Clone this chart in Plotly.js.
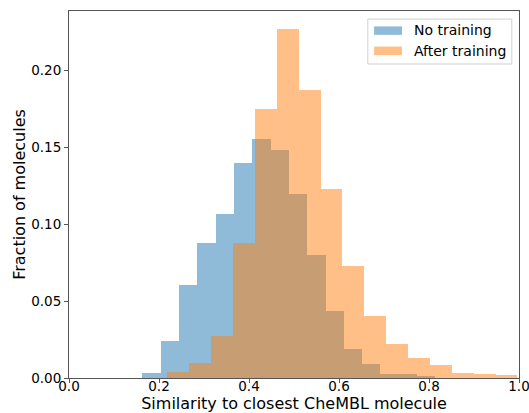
<!DOCTYPE html>
<html>
<head>
<meta charset="utf-8">
<script src="https://cdn.plot.ly/plotly-3.0.1.min.js"></script>
<style>html,body{margin:0;padding:0;background:#fff;}#chart{width:529px;height:413px;}</style>
</head>
<body>
<div id="chart"></div>
<script>
// Bin edges (n+1 values) and fractions
const noTrainingEdges = [0.163, 0.204, 0.244, 0.285, 0.326, 0.366, 0.407, 0.448, 0.489, 0.529, 0.570, 0.611, 0.651, 0.692, 0.733, 0.774, 0.814];
const noTrainingFrac  = [0.003, 0.0238, 0.0603, 0.0878, 0.1066, 0.1396, 0.1554, 0.148, 0.1196, 0.0798, 0.0436, 0.0186, 0.0093, 0.0028, 0.0025, 0.0015];

const afterTrainingEdges = [0.2185, 0.267, 0.3157, 0.3643, 0.413, 0.4616, 0.510, 0.559, 0.6075, 0.656, 0.705, 0.753, 0.802, 0.851, 0.899, 0.948, 0.996];
const afterTrainingFrac  = [0.0037, 0.0095, 0.0275, 0.0876, 0.1747, 0.2265, 0.1868, 0.1227, 0.0726, 0.0401, 0.0219, 0.0128, 0.0082, 0.003, 0.0026, 0.0022];

const seriesNames = ["No training", "After training"];
const seriesColors = ["rgba(31,119,180,0.5)", "rgba(255,127,14,0.5)"];

const xTicks = [0.0, 0.2, 0.4, 0.6, 0.8, 1.0];
const yTicks = [0.00, 0.05, 0.10, 0.15, 0.20];

const font = "DejaVu Sans, sans-serif";

function histTrace(edges, frac, name, color) {
  const left = edges.slice(0, -1);
  return {
    type: "bar", x: left, y: frac, offset: 0,
    width: left.map((e, i) => edges[i + 1] - e),
    marker: {color: color, line: {width: 0}}, name: name, showlegend: false
  };
}

const traces = [
  histTrace(noTrainingEdges, noTrainingFrac, seriesNames[0], seriesColors[0]),
  histTrace(afterTrainingEdges, afterTrainingFrac, seriesNames[1], seriesColors[1])
];

const axisCommon = {
  showline: true, mirror: true, linecolor: "#555", linewidth: 1,
  ticks: "outside", ticklen: 4, tickwidth: 1, tickcolor: "#555",
  showgrid: false, zeroline: false, ticklabeloverflow: "allow",
  tickfont: {family: font, size: 13.5, color: "#000"}
};

// matplotlib-style legend (paper coords)
const legendShapes = [
  {type: "rect", xref: "paper", yref: "paper", x0: 0.664, x1: 0.984, y0: 0.8556, y1: 0.978,
   line: {color: "#d0d0d0", width: 1}, fillcolor: "rgba(255,255,255,0.8)", layer: "above"},
  {type: "rect", xref: "paper", yref: "paper", x0: 0.678, x1: 0.740, y0: 0.935, y1: 0.958,
   line: {width: 0}, fillcolor: seriesColors[0], layer: "above"},
  {type: "rect", xref: "paper", yref: "paper", x0: 0.678, x1: 0.740, y0: 0.880, y1: 0.903,
   line: {width: 0}, fillcolor: seriesColors[1], layer: "above"}
];
const legendText = [
  {xref: "paper", yref: "paper", x: 0.763, y: 0.947, text: seriesNames[0], showarrow: false,
   xanchor: "left", yanchor: "middle", font: {family: font, size: 14, color: "#000"}},
  {xref: "paper", yref: "paper", x: 0.763, y: 0.892, text: seriesNames[1], showarrow: false,
   xanchor: "left", yanchor: "middle", font: {family: font, size: 14, color: "#000"}}
];

const layout = {
  width: 529, height: 413,
  margin: {l: 69, r: 10, t: 11, b: 35},
  paper_bgcolor: "#fff", plot_bgcolor: "#fff",
  barmode: "overlay", bargap: 0,
  showlegend: false,
  xaxis: Object.assign({}, axisCommon, {
    range: [0, 1], tickvals: xTicks, ticktext: xTicks.map(v => v.toFixed(1)),
    ticklabelstandoff: -8,
    title: {text: "Similarity to closest CheMBL molecule", font: {family: font, size: 16, color: "#000"}, standoff: 3}
  }),
  yaxis: Object.assign({}, axisCommon, {
    range: [0, 0.2384], tickvals: yTicks, ticktext: yTicks.map(v => v.toFixed(2)),
    title: {text: "Fraction of molecules", font: {family: font, size: 16, color: "#000"}, standoff: 1}
  }),
  shapes: legendShapes,
  annotations: legendText
};

Plotly.newPlot("chart", traces, layout, {displayModeBar: false, staticPlot: true});
</script>
</body>
</html>
